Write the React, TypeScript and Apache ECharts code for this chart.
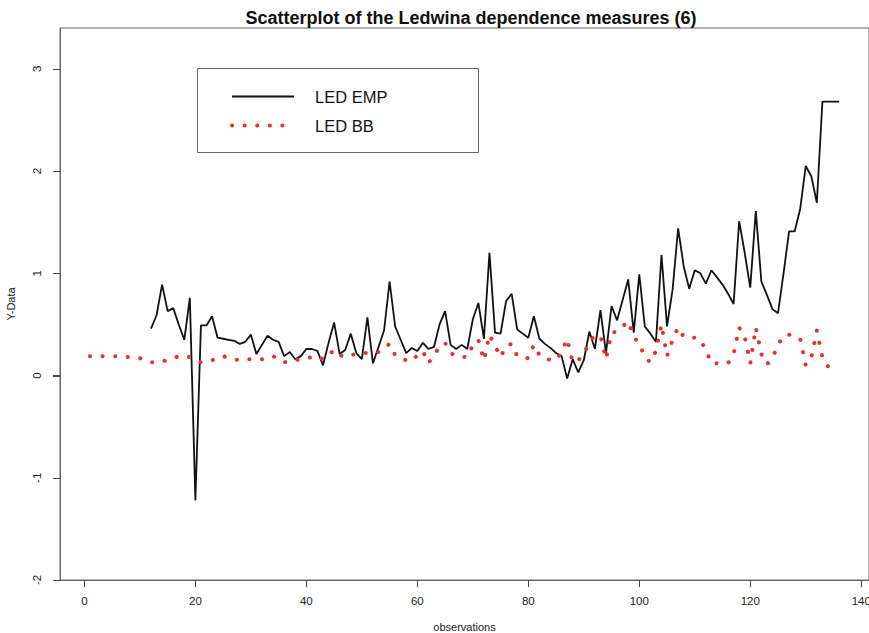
import React, { useEffect, useRef } from "react";
import * as echarts from "echarts";

const title = "Scatterplot of the Ledwina dependence measures (6)";
const xTicks = [0, 20, 40, 60, 80, 100, 120, 140];
const yTicks = [-2, -1, 0, 1, 2, 3];

// LED EMP starts at observation 12
const empStart = 12;
const empValues = [
  0.46, 0.59, 0.89, 0.63, 0.66, 0.5, 0.35, 0.76, -1.22, 0.49,
  0.49, 0.58, 0.37, 0.36, 0.35, 0.34, 0.31, 0.33, 0.4, 0.21,
  0.3, 0.39, 0.35, 0.33, 0.19, 0.23, 0.16, 0.19, 0.26, 0.26,
  0.24, 0.1, 0.32, 0.52, 0.21, 0.25, 0.41, 0.22, 0.16, 0.57,
  0.12, 0.28, 0.44, 0.92, 0.48, 0.35, 0.22, 0.27, 0.24, 0.32,
  0.26, 0.28, 0.5, 0.63, 0.3, 0.26, 0.3, 0.26, 0.55, 0.71,
  0.36, 1.2, 0.42, 0.41, 0.73, 0.8, 0.45, 0.41, 0.37, 0.58,
  0.36, 0.31, 0.27, 0.22, 0.19, -0.03, 0.16, 0.03, 0.15, 0.43,
  0.26, 0.64, 0.22, 0.68, 0.54, 0.74, 0.94, 0.42, 0.99, 0.48,
  0.41, 0.33, 1.18, 0.48, 0.84, 1.44, 1.07, 0.85, 1.03, 1.0,
  0.9, 1.03, 0.96, 0.89, 0.8, 0.7, 1.51, 1.2, 0.86, 1.61,
  0.92, 0.79, 0.65, 0.61, 1.0, 1.41, 1.41, 1.63, 2.05, 1.95,
  1.69, 2.68, 2.68, 2.68, 2.68,
];

// LED BB starts at observation 1
const bbStart = 1;
const bbValues = [
  0.19, 0.19, 0.19, 0.19, 0.19, 0.19, 0.185, 0.18, 0.175, 0.17,
  0.15, 0.13, 0.13, 0.14, 0.15, 0.17, 0.19, 0.185, 0.18, 0.15,
  0.13, 0.14, 0.15, 0.17, 0.19, 0.17, 0.16, 0.15, 0.155, 0.16,
  0.16, 0.16, 0.175, 0.19, 0.16, 0.13, 0.14, 0.15, 0.16, 0.17,
  0.18, 0.19, 0.16, 0.2, 0.25, 0.2, 0.18, 0.2, 0.21, 0.22,
  0.22, 0.22, 0.23, 0.27, 0.31, 0.2, 0.17, 0.15, 0.14, 0.2,
  0.24, 0.12, 0.2, 0.28, 0.32, 0.22, 0.19, 0.185, 0.18, 0.3,
  0.35, 0.15, 0.4, 0.29, 0.18, 0.29, 0.31, 0.19, 0.18, 0.17,
  0.3, 0.2, 0.16, 0.155, 0.15, 0.23, 0.36, 0.13, 0.15, 0.21,
  0.33, 0.39, 0.39, 0.16, 0.42, 0.43, 0.48, 0.53, 0.38, 0.31,
  0.18, 0.13, 0.24, 0.5, 0.19, 0.35, 0.47, 0.38, 0.375, 0.37,
  0.35, 0.25, 0.12, 0.12, 0.12, 0.12, 0.21, 0.47, 0.38, 0.12,
  0.47, 0.21, 0.11, 0.17, 0.3, 0.39, 0.4, 0.38, 0.36, 0.1,
  0.18, 0.44, 0.18, 0.09, 0.09, 0.09,
];

const FONT = "'Liberation Sans', Arial, sans-serif";
const RED = "#e5322b";
const DOTS = [0.1, 12.5];
const AXIS_GREY = "#444";
const X_MIN = -4.4;
const X_MAX = 141.4;
const Y_MIN = -2;
const Y_MAX = 3.4;
const TICK_LEN = 7;

export default function App() {
  const ref = useRef<HTMLDivElement>(null);
  useEffect(() => {
    if (!ref.current) return;
    const chart = echarts.init(ref.current, null, { renderer: "svg" });
    const empData = empValues.map((v, i) => [i + empStart, v]);
    const bbData = bbValues.map((v, i) => [i + bbStart, v]);
    const legendBox = {
      id: "legendBox",
      type: "rect",
      left: 195,
      top: 66,
      shape: { width: 281, height: 84 },
      style: { fill: "none", stroke: "#666", lineWidth: 1 },
      silent: true,
    };
    chart.setOption({
      animation: false,
      title: {
        text: title,
        left: 466,
        top: 4,
        textAlign: "center",
        textStyle: { fontFamily: FONT, fontSize: 18, fontWeight: "bold", color: "#111" },
      },
      grid: {
        left: 60,
        right: 0,
        top: 28,
        bottom: 53,
        show: true,
        borderColor: "#666",
        borderWidth: 1,
        outerBoundsMode: "none",
      },
      legend: {
        orient: "vertical",
        left: 225,
        top: 83,
        itemWidth: 62,
        itemHeight: 14,
        itemGap: 12,
        selectedMode: false,
        itemStyle: { opacity: 0 },
        textStyle: { fontFamily: FONT, fontSize: 16.5, color: "#111", padding: [0, 0, 0, 16] },
        data: [
          { name: "LED EMP", itemStyle: { opacity: 0 }, lineStyle: { color: "#111", width: 1.8 } },
          {
            name: "LED BB",
            itemStyle: { opacity: 0 },
            lineStyle: { color: RED, width: 4, type: DOTS, cap: "round" },
          },
        ],
      },
      graphic: [legendBox],
      xAxis: {
        type: "value",
        min: X_MIN,
        max: X_MAX,
        name: "observations",
        nameLocation: "middle",
        nameGap: 41,
        nameTextStyle: { fontFamily: FONT, fontSize: 11, color: "#222" },
        axisLine: { show: true, onZero: false, lineStyle: { color: "#666" } },
        splitLine: { show: false },
        axisTick: { show: true, length: TICK_LEN, lineStyle: { color: AXIS_GREY }, customValues: xTicks },
        axisLabel: { fontFamily: FONT, fontSize: 11.5, color: "#222", margin: 15, customValues: xTicks },
      },
      yAxis: {
        type: "value",
        min: Y_MIN,
        max: Y_MAX,
        name: "Y-Data",
        nameLocation: "middle",
        nameGap: 44,
        nameRotate: 90,
        nameTextStyle: { fontFamily: FONT, fontSize: 11, color: "#222" },
        axisLine: { show: true, onZero: false, lineStyle: { color: "#666" } },
        splitLine: { show: false },
        axisTick: { show: true, length: TICK_LEN, lineStyle: { color: AXIS_GREY }, customValues: yTicks },
        axisLabel: { fontFamily: FONT, fontSize: 11.5, color: "#222", margin: 17, rotate: 90, customValues: yTicks },
      },
      series: [
        {
          name: "LED EMP",
          type: "line",
          data: empData,
          showSymbol: false,
          symbol: "none",
          lineStyle: { color: "#111", width: 1.8 },
          itemStyle: { color: "#111" },
        },
        {
          name: "LED BB",
          type: "line",
          data: bbData,
          showSymbol: false,
          symbol: "none",
          lineStyle: { color: RED, width: 4, type: DOTS, cap: "round" },
          itemStyle: { color: RED },
        },
      ],
    });

    // Tick marks placed through the chart's own scales
    const ticks: any[] = [];
    xTicks.forEach((t) => {
      const p = chart.convertToPixel({ gridIndex: 0 }, [t, Y_MIN]) as number[];
      const x = Math.round(p[0]) + 0.5;
      const y = Math.round(p[1]);
      ticks.push({
        type: "polyline",
        silent: true,
        z: 100,
        shape: { points: [[x, y], [x, y + TICK_LEN]] },
        style: { stroke: AXIS_GREY, lineWidth: 1, fill: "none" },
      });
    });
    yTicks.forEach((t) => {
      const p = chart.convertToPixel({ gridIndex: 0 }, [X_MIN, t]) as number[];
      const x = Math.round(p[0]);
      const y = Math.round(p[1]) + 0.5;
      ticks.push({
        type: "polyline",
        silent: true,
        z: 100,
        shape: { points: [[x - TICK_LEN, y], [x, y]] },
        style: { stroke: AXIS_GREY, lineWidth: 1, fill: "none" },
      });
    });
    chart.setOption({ graphic: [legendBox, ...ticks] });

    return () => chart.dispose();
  }, []);
  return (
    <div
      ref={ref}
      style={{ position: "fixed", left: 0, top: 0, width: 869, height: 633, background: "#fff" }}
    />
  );
}
